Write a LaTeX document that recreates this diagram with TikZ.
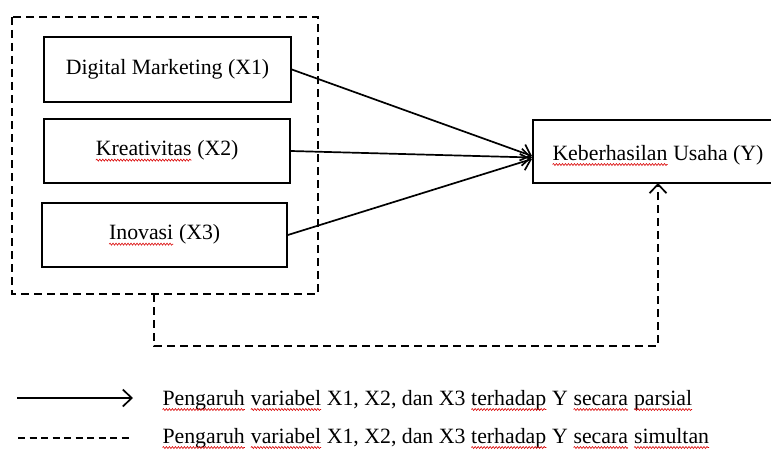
\documentclass[tikz,border=0pt]{standalone}
\usepackage{fontspec}
\setmainfont{Liberation Serif}
\usetikzlibrary{arrows.meta,decorations.pathmorphing}
\newcommand\redwave[1]{\tikz[baseline=(w.base)]{\node[draw=none,inner sep=0pt,outer sep=0pt,minimum width=0pt,minimum height=0pt](w){#1};\draw[red!85!black, line width=0.6pt, decorate, decoration={snake, amplitude=1pt, segment length=3pt}] ([yshift=-4.5pt]w.base west) -- ([yshift=-4.5pt]w.base east);}}
\tikzset{
  box/.style={draw, line width=1.7pt, inner sep=0pt, font=\fontsize{21.8}{26}\selectfont},
  dashln/.style={line width=1.7pt, dash pattern=on 8pt off 5pt},
  tipstyle/.style={-{Straight Barb[length=9pt, width=17pt, line width=1.7pt]}},
  arr/.style={line width=1.7pt, tipstyle},
  lbl/.style={anchor=base west, inner sep=0pt, font=\fontsize{21.8}{26}\selectfont},
}
\begin{document}
\begin{tikzpicture}[x=1pt, y=-1pt]
\useasboundingbox (0,0) rectangle (771,452);
% outer dashed group
\draw[dashln] (12,17) rectangle (318,294);
\node[box, minimum width=247pt, minimum height=65pt] (x1) at (167.5,69.5) {Digital Marketing (X1)};
\node[box, minimum width=246pt, minimum height=64pt] (x2) at (167,151) {\redwave{Kreativitas} (X2)};
\node[box, minimum width=245pt, minimum height=64pt] (x3) at (164.5,235) {\redwave{Inovasi} (X3)};
\node[box, minimum width=244pt, minimum height=63pt] (y) at (655,151.5) {};
\node[lbl] (yt) at (552,160) {\redwave{Keberhasilan} Usaha (Y)};
\coordinate (tip1) at (532,156);
\coordinate (tip2) at (532,157.5);
\coordinate (tip3) at (532,159);
\draw[arr] (x1.east) -- (tip1);
\draw[arr] (x2.east) -- (tip2);
\draw[arr] (x3.east) -- (tip3);
% simultaneous
\coordinate (gbot) at (154,294);
\draw[dashln, tipstyle] (gbot) -- (154,346) -- (658,346) -- (658,183);
% legend
\coordinate (l1a) at (17,398);
\coordinate (l1b) at (133,398);
\draw[arr] (l1a) -- (l1b);
\node[lbl] (t1) at (162,405) {\redwave{Pengaruh} \redwave{variabel} X1, X2, dan X3 \redwave{terhadap} Y \redwave{secara} \redwave{parsial}};
\coordinate (l2a) at (18,438);
\coordinate (l2b) at (133,438);
\draw[line width=1.4pt, dash pattern=on 7pt off 4.5pt] (l2a) -- (l2b);
\node[lbl] (t2) at (162,443) {\redwave{Pengaruh} \redwave{variabel} X1, X2, dan X3 \redwave{terhadap} Y \redwave{secara} \redwave{simultan}};
\end{tikzpicture}
\end{document}
